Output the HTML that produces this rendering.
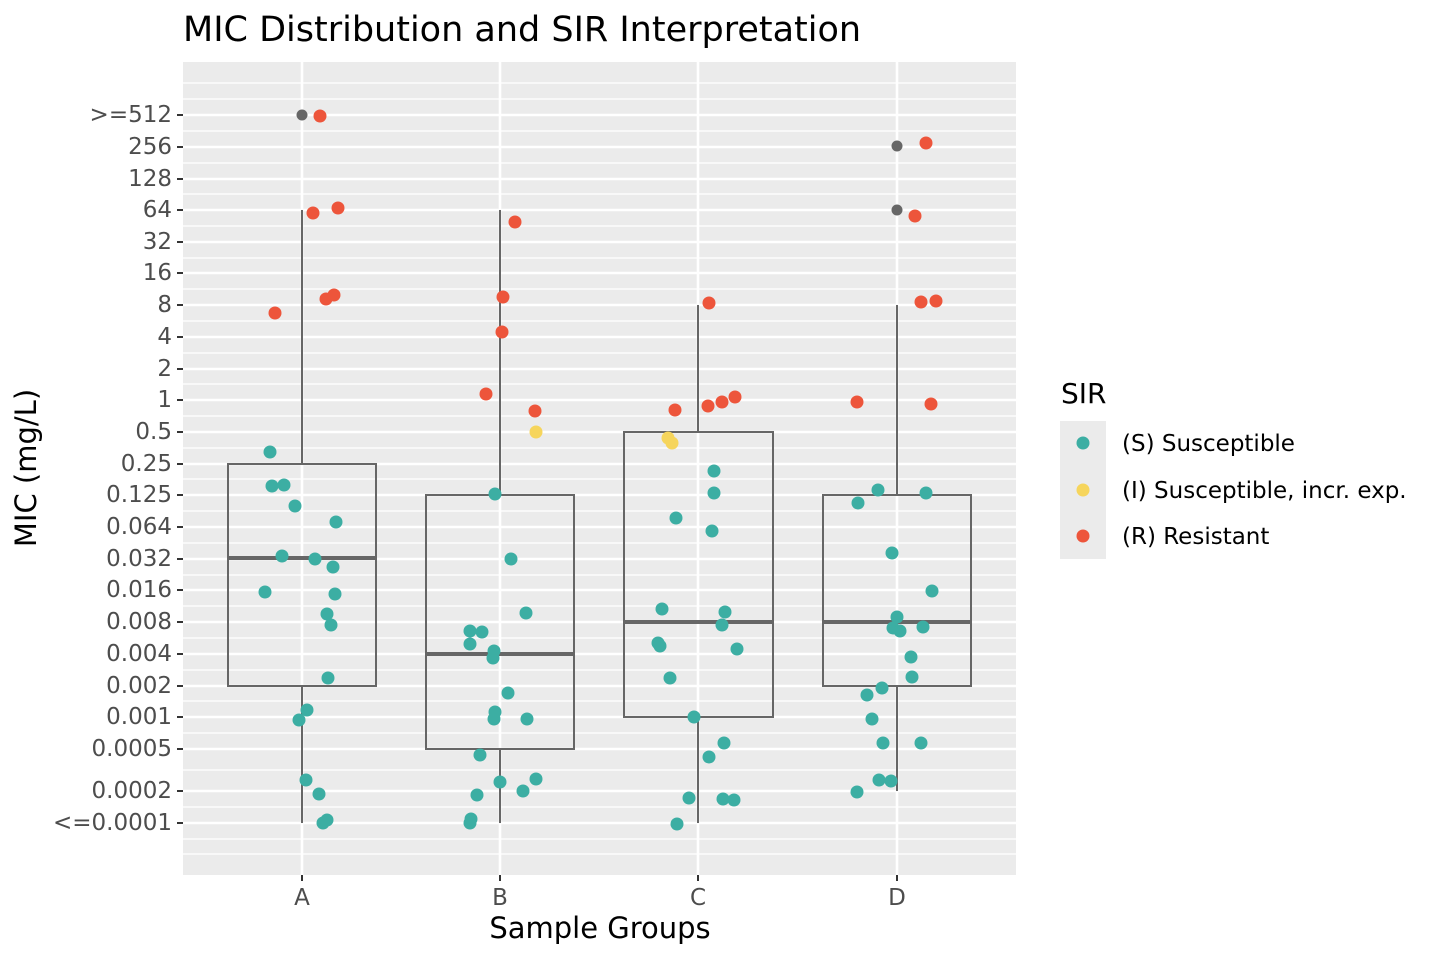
<!DOCTYPE html>
<html><head><meta charset="utf-8"><style>html,body{margin:0;padding:0;background:#fff}svg{display:block}text{font-family:"DejaVu Sans","Liberation Sans",sans-serif}</style></head>
<body>
<svg width="1440" height="960" viewBox="0 0 1440 960" xmlns="http://www.w3.org/2000/svg">
<rect x="0" y="0" width="1440" height="960" fill="#fff"/>
<text x="183" y="41" font-size="35" fill="#000">MIC Distribution and SIR Interpretation</text>
<rect x="183" y="62" width="833" height="813" fill="#ebebeb"/>
<g stroke="#fff" stroke-width="1.3">
<line x1="183" x2="1016" y1="83" y2="83"/><line x1="183" x2="1016" y1="99" y2="99"/><line x1="183" x2="1016" y1="131" y2="131"/><line x1="183" x2="1016" y1="163" y2="163"/><line x1="183" x2="1016" y1="194" y2="194"/><line x1="183" x2="1016" y1="226" y2="226"/><line x1="183" x2="1016" y1="258" y2="258"/><line x1="183" x2="1016" y1="289" y2="289"/><line x1="183" x2="1016" y1="321" y2="321"/><line x1="183" x2="1016" y1="353" y2="353"/><line x1="183" x2="1016" y1="384" y2="384"/><line x1="183" x2="1016" y1="416" y2="416"/><line x1="183" x2="1016" y1="448" y2="448"/><line x1="183" x2="1016" y1="479" y2="479"/><line x1="183" x2="1016" y1="511" y2="511"/><line x1="183" x2="1016" y1="543" y2="543"/><line x1="183" x2="1016" y1="575" y2="575"/><line x1="183" x2="1016" y1="606" y2="606"/><line x1="183" x2="1016" y1="638" y2="638"/><line x1="183" x2="1016" y1="670" y2="670"/><line x1="183" x2="1016" y1="701" y2="701"/><line x1="183" x2="1016" y1="733" y2="733"/><line x1="183" x2="1016" y1="770" y2="770"/><line x1="183" x2="1016" y1="807" y2="807"/><line x1="183" x2="1016" y1="839" y2="839"/><line x1="183" x2="1016" y1="854" y2="854"/>
</g>
<g stroke="#fff" stroke-width="2.6">
<line x1="183" x2="1016" y1="115" y2="115"/><line x1="183" x2="1016" y1="147" y2="147"/><line x1="183" x2="1016" y1="179" y2="179"/><line x1="183" x2="1016" y1="210" y2="210"/><line x1="183" x2="1016" y1="242" y2="242"/><line x1="183" x2="1016" y1="273" y2="273"/><line x1="183" x2="1016" y1="305" y2="305"/><line x1="183" x2="1016" y1="337" y2="337"/><line x1="183" x2="1016" y1="369" y2="369"/><line x1="183" x2="1016" y1="400" y2="400"/><line x1="183" x2="1016" y1="432" y2="432"/><line x1="183" x2="1016" y1="464" y2="464"/><line x1="183" x2="1016" y1="495" y2="495"/><line x1="183" x2="1016" y1="527" y2="527"/><line x1="183" x2="1016" y1="559" y2="559"/><line x1="183" x2="1016" y1="590" y2="590"/><line x1="183" x2="1016" y1="622" y2="622"/><line x1="183" x2="1016" y1="654" y2="654"/><line x1="183" x2="1016" y1="686" y2="686"/><line x1="183" x2="1016" y1="717" y2="717"/><line x1="183" x2="1016" y1="749" y2="749"/><line x1="183" x2="1016" y1="791" y2="791"/><line x1="183" x2="1016" y1="823" y2="823"/>
<line x1="302" x2="302" y1="62" y2="875"/><line x1="500" x2="500" y1="62" y2="875"/><line x1="698" x2="698" y1="62" y2="875"/><line x1="897" x2="897" y1="62" y2="875"/>
</g>
<g stroke="#666" stroke-width="2" fill="none">
<line x1="302" x2="302" y1="210" y2="464"/><line x1="302" x2="302" y1="686" y2="823"/>
<rect x="228" y="464" width="148" height="222"/>
<line x1="500" x2="500" y1="210" y2="495"/><line x1="500" x2="500" y1="749" y2="823"/>
<rect x="426" y="495" width="148" height="254"/>
<line x1="698" x2="698" y1="305" y2="432"/><line x1="698" x2="698" y1="717" y2="823"/>
<rect x="624" y="432" width="149" height="285"/>
<line x1="897" x2="897" y1="305" y2="495"/><line x1="897" x2="897" y1="686" y2="791"/>
<rect x="823" y="495" width="148" height="191"/>
</g>
<g stroke="#666" stroke-width="4">
<line x1="228" x2="376" y1="558" y2="558"/><line x1="426" x2="574" y1="654" y2="654"/><line x1="624" x2="773" y1="622" y2="622"/><line x1="823" x2="971" y1="622" y2="622"/>
</g>
<g fill="#666"><circle cx="302" cy="115" r="5.5"/><circle cx="897" cy="146" r="5.5"/><circle cx="897" cy="210" r="5.5"/></g>
<g fill="#3caea3">
<circle cx="270" cy="452" r="6.5"/><circle cx="272" cy="486" r="6.5"/><circle cx="284" cy="485" r="6.5"/><circle cx="295" cy="506" r="6.5"/><circle cx="336" cy="522" r="6.5"/><circle cx="282" cy="556" r="6.5"/><circle cx="315" cy="559" r="6.5"/><circle cx="333" cy="567" r="6.5"/><circle cx="265" cy="592" r="6.5"/><circle cx="335" cy="594" r="6.5"/><circle cx="327" cy="614" r="6.5"/><circle cx="331" cy="625" r="6.5"/><circle cx="328" cy="678" r="6.5"/><circle cx="307" cy="710" r="6.5"/><circle cx="299" cy="720" r="6.5"/><circle cx="306" cy="780" r="6.5"/><circle cx="319" cy="794" r="6.5"/><circle cx="327" cy="820" r="6.5"/><circle cx="323" cy="823" r="6.5"/>
<circle cx="495" cy="494" r="6.5"/><circle cx="511" cy="559" r="6.5"/><circle cx="526" cy="613" r="6.5"/><circle cx="470" cy="631" r="6.5"/><circle cx="482" cy="632" r="6.5"/><circle cx="470" cy="644" r="6.5"/><circle cx="494" cy="651" r="6.5"/><circle cx="493" cy="658" r="6.5"/><circle cx="508" cy="693" r="6.5"/><circle cx="495" cy="712" r="6.5"/><circle cx="494" cy="719" r="6.5"/><circle cx="527" cy="719" r="6.5"/><circle cx="480" cy="755" r="6.5"/><circle cx="536" cy="779" r="6.5"/><circle cx="500" cy="782" r="6.5"/><circle cx="523" cy="791" r="6.5"/><circle cx="477" cy="795" r="6.5"/><circle cx="471" cy="819" r="6.5"/><circle cx="470" cy="823" r="6.5"/>
<circle cx="714" cy="471" r="6.5"/><circle cx="714" cy="493" r="6.5"/><circle cx="676" cy="518" r="6.5"/><circle cx="712" cy="531" r="6.5"/><circle cx="662" cy="609" r="6.5"/><circle cx="725" cy="612" r="6.5"/><circle cx="722" cy="625" r="6.5"/><circle cx="658" cy="643" r="6.5"/><circle cx="660" cy="646" r="6.5"/><circle cx="737" cy="649" r="6.5"/><circle cx="670" cy="678" r="6.5"/><circle cx="694" cy="717" r="6.5"/><circle cx="724" cy="743" r="6.5"/><circle cx="709" cy="757" r="6.5"/><circle cx="689" cy="798" r="6.5"/><circle cx="723" cy="799" r="6.5"/><circle cx="734" cy="800" r="6.5"/><circle cx="677" cy="824" r="6.5"/>
<circle cx="878" cy="490" r="6.5"/><circle cx="926" cy="493" r="6.5"/><circle cx="858" cy="503" r="6.5"/><circle cx="892" cy="553" r="6.5"/><circle cx="932" cy="591" r="6.5"/><circle cx="897" cy="617" r="6.5"/><circle cx="893" cy="628" r="6.5"/><circle cx="900" cy="631" r="6.5"/><circle cx="923" cy="627" r="6.5"/><circle cx="911" cy="657" r="6.5"/><circle cx="912" cy="677" r="6.5"/><circle cx="882" cy="688" r="6.5"/><circle cx="867" cy="695" r="6.5"/><circle cx="872" cy="719" r="6.5"/><circle cx="883" cy="743" r="6.5"/><circle cx="921" cy="743" r="6.5"/><circle cx="879" cy="780" r="6.5"/><circle cx="891" cy="781" r="6.5"/><circle cx="857" cy="792" r="6.5"/>
</g>
<g fill="#f6d55c"><circle cx="536" cy="432" r="6.5"/><circle cx="668" cy="438" r="6.5"/><circle cx="672" cy="443" r="6.5"/></g>
<g fill="#ed553b">
<circle cx="320" cy="116" r="6.5"/><circle cx="313" cy="213" r="6.5"/><circle cx="338" cy="208" r="6.5"/><circle cx="326" cy="299" r="6.5"/><circle cx="334" cy="295" r="6.5"/><circle cx="275" cy="313" r="6.5"/>
<circle cx="515" cy="222" r="6.5"/><circle cx="503" cy="297" r="6.5"/><circle cx="502" cy="332" r="6.5"/><circle cx="486" cy="394" r="6.5"/><circle cx="535" cy="411" r="6.5"/>
<circle cx="709" cy="303" r="6.5"/><circle cx="675" cy="410" r="6.5"/><circle cx="708" cy="406" r="6.5"/><circle cx="722" cy="402" r="6.5"/><circle cx="735" cy="397" r="6.5"/>
<circle cx="926" cy="143" r="6.5"/><circle cx="915" cy="216" r="6.5"/><circle cx="921" cy="302" r="6.5"/><circle cx="936" cy="301" r="6.5"/><circle cx="857" cy="402" r="6.5"/><circle cx="931" cy="404" r="6.5"/>
</g>
<g stroke="#333" stroke-width="2">
<line x1="177" x2="183" y1="115" y2="115"/><line x1="177" x2="183" y1="147" y2="147"/><line x1="177" x2="183" y1="179" y2="179"/><line x1="177" x2="183" y1="210" y2="210"/><line x1="177" x2="183" y1="242" y2="242"/><line x1="177" x2="183" y1="273" y2="273"/><line x1="177" x2="183" y1="305" y2="305"/><line x1="177" x2="183" y1="337" y2="337"/><line x1="177" x2="183" y1="369" y2="369"/><line x1="177" x2="183" y1="400" y2="400"/><line x1="177" x2="183" y1="432" y2="432"/><line x1="177" x2="183" y1="464" y2="464"/><line x1="177" x2="183" y1="495" y2="495"/><line x1="177" x2="183" y1="527" y2="527"/><line x1="177" x2="183" y1="559" y2="559"/><line x1="177" x2="183" y1="590" y2="590"/><line x1="177" x2="183" y1="622" y2="622"/><line x1="177" x2="183" y1="654" y2="654"/><line x1="177" x2="183" y1="686" y2="686"/><line x1="177" x2="183" y1="717" y2="717"/><line x1="177" x2="183" y1="749" y2="749"/><line x1="177" x2="183" y1="791" y2="791"/><line x1="177" x2="183" y1="823" y2="823"/>
<line x1="302" x2="302" y1="875" y2="881"/><line x1="500" x2="500" y1="875" y2="881"/><line x1="698" x2="698" y1="875" y2="881"/><line x1="897" x2="897" y1="875" y2="881"/>
</g>
<g font-size="23" fill="#4d4d4d" text-anchor="end">
<text x="172" y="122">&gt;=512</text><text x="172" y="154">256</text><text x="172" y="186">128</text><text x="172" y="217">64</text><text x="172" y="249">32</text><text x="172" y="280">16</text><text x="172" y="312">8</text><text x="172" y="344">4</text><text x="172" y="376">2</text><text x="172" y="407">1</text><text x="172" y="439">0.5</text><text x="172" y="471">0.25</text><text x="172" y="502">0.125</text><text x="172" y="534">0.064</text><text x="172" y="566">0.032</text><text x="172" y="597">0.016</text><text x="172" y="629">0.008</text><text x="172" y="661">0.004</text><text x="172" y="693">0.002</text><text x="172" y="724">0.001</text><text x="172" y="756">0.0005</text><text x="172" y="798">0.0002</text><text x="172" y="830">&lt;=0.0001</text>
</g>
<g font-size="23" fill="#4d4d4d" text-anchor="middle">
<text x="302" y="905">A</text><text x="500" y="905">B</text><text x="698" y="905">C</text><text x="897" y="905">D</text>
</g>
<text x="600" y="938" font-size="29" text-anchor="middle" fill="#000">Sample Groups</text>
<text transform="translate(36,468) rotate(-90)" font-size="29" text-anchor="middle" fill="#000">MIC (mg/L)</text>
<text x="1061" y="403" font-size="28" fill="#000">SIR</text>
<rect x="1060" y="421" width="46" height="138" fill="#ebebeb"/>
<circle cx="1083" cy="443" r="6.5" fill="#3caea3"/>
<circle cx="1083" cy="490" r="6.5" fill="#f6d55c"/>
<circle cx="1083" cy="536" r="6.5" fill="#ed553b"/>
<g font-size="23" fill="#000">
<text x="1122" y="451">(S) Susceptible</text><text x="1122" y="498">(I) Susceptible, incr. exp.</text><text x="1122" y="544">(R) Resistant</text>
</g>
</svg>
</body></html>
